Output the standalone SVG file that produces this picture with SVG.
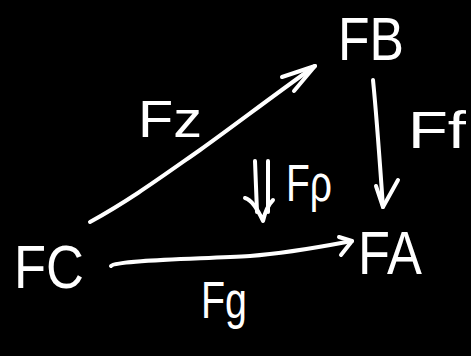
<svg xmlns="http://www.w3.org/2000/svg" width="471" height="356" viewBox="0 0 471 356">
<style>
.bg{fill:#000}
.lbl{font-family:"Liberation Sans","DejaVu Sans",sans-serif;fill:#fff}
.obj{font-size:62px}
.map{font-size:52px}
.c{fill:none;stroke:#fff;stroke-width:4;stroke-linecap:round;stroke-linejoin:round}
</style>
<rect class="bg" x="0" y="0" width="471" height="356"/>
<g id="connectors">
<path class="c" d="M90,222 C130,200 160,178 200,150 C235,125 270,98 315,66"/>
<path class="c" d="M282,77 L315,66 L294,91"/>
<path class="c" d="M373,80 C377,120 380,165 383,207"/>
<path class="c" d="M376,186 L383,207 L398,180"/>
<path class="c" d="M111,266 C116,260 200,259 250,256 C290,253 320,247 352,241"/>
<path class="c" d="M339,237 L352,241 L341,255"/>
<path class="c" d="M255,161 L257,212 M268,161 L268,212"/>
<path class="c" d="M245,198 C252,200 258,210 263,221 C265,212 268,205 273,200"/>
</g>
<g id="FB"><text class="lbl obj" x="338" y="60" textLength="66" lengthAdjust="spacingAndGlyphs">FB</text></g>
<g id="FA"><text class="lbl obj" x="358" y="274" textLength="64" lengthAdjust="spacingAndGlyphs">FA</text></g>
<g id="FC"><text class="lbl obj" x="14" y="288" textLength="70" lengthAdjust="spacingAndGlyphs">FC</text></g>
<g id="label-Fz"><text class="lbl map" x="138" y="137" textLength="64" lengthAdjust="spacingAndGlyphs">Fz</text></g>
<g id="label-Ff"><text class="lbl map" x="408" y="148" textLength="58" lengthAdjust="spacingAndGlyphs">Ff</text></g>
<g id="label-Frho"><text class="lbl map" x="286" y="201" textLength="46" lengthAdjust="spacingAndGlyphs">Fρ</text></g>
<g id="label-Fg"><text class="lbl map" x="201" y="318" textLength="46" lengthAdjust="spacingAndGlyphs">Fg</text></g>
</svg>
